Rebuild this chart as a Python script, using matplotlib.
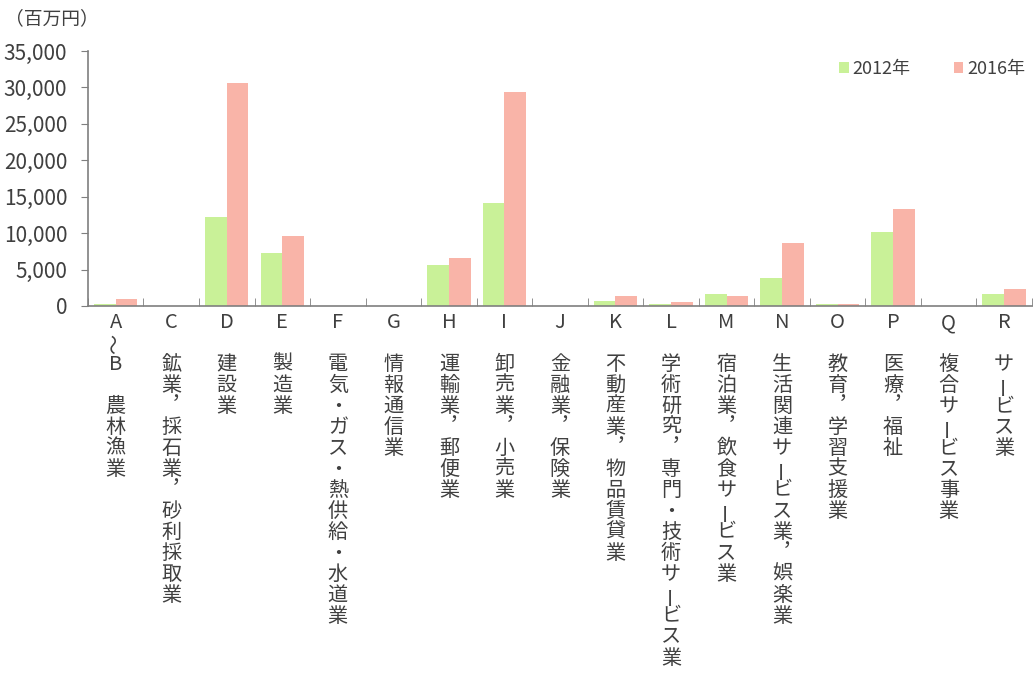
import numpy as np
import matplotlib.pyplot as plt

plt.rcParams['font.family'] = ['Noto Sans CJK JP', 'DejaVu Sans']

# 産業大分類
codes = ['A～B', 'C', 'D', 'E', 'F', 'G', 'H', 'I', 'J',
         'K', 'L', 'M', 'N', 'O', 'P', 'Q', 'R']
names = ['農林漁業', '鉱業，採石業，砂利採取業', '建設業', '製造業',
         '電気・ガス・熱供給・水道業', '情報通信業', '運輸業，郵便業',
         '卸売業，小売業', '金融業，保険業', '不動産業，物品賃貸業',
         '学術研究，専門・技術サービス業', '宿泊業，飲食サービス業',
         '生活関連サービス業，娯楽業', '教育，学習支援業', '医療，福祉',
         '複合サービス事業', 'サービス業']

# 百万円
v2012 = [300, 0, 12200, 7270, 0, 0, 5620, 14130, 60,
         730, 300, 1650, 3840, 300, 10150, 0, 1650]
v2016 = [960, 0, 30600, 9600, 0, 0, 6580, 29350, 0,
         1410, 550, 1410, 8640, 250, 13300, 0, 2290]

yticks = [0, 5000, 10000, 15000, 20000, 25000, 30000, 35000]

c12 = '#c9f198'
c16 = '#f9b4a8'
txt = '#404040'
grey = '#7f7f7f'

fig = plt.figure(figsize=(10.35, 6.75), dpi=100)
ax = fig.add_axes([0.085, 0.5467, 0.912, 0.3778])

x = np.arange(len(codes))
w = 0.39
ax.bar(x - w/2, v2012, w, color=c12, label='2012年')
ax.bar(x + w/2, v2016, w, color=c16, label='2016年')

ax.set_xlim(-0.5, len(codes) - 0.5)
ax.set_ylim(0, 35000)
ax.set_yticks(yticks)
ax.set_yticklabels([f'{v:,}' for v in yticks], fontsize=15, color=txt)
ax.tick_params(axis='y', direction='out', length=5, color=grey, pad=10)

ax.set_xticks([])
ax.set_xticks(np.arange(-0.5, len(codes)), minor=True)
ax.tick_params(axis='x', which='minor', direction='in', length=6, color=grey)

for s in ['top', 'right']:
    ax.spines[s].set_visible(False)
for s in ['left', 'bottom']:
    ax.spines[s].set_color(grey)
    ax.spines[s].set_linewidth(1.2)

# 縦書きラベル
vert = {'，': '︐'}
for i, (c, n) in enumerate(zip(codes, names)):
    chars = list(c) + [' '] + list(n)
    for k, ch in enumerate(chars):
        if ch == ' ':
            continue
        rot = 90 if ch in ('～', 'ー') else 0
        ax.annotate(vert.get(ch, ch), xy=(i, 0), xycoords=('data', 'axes fraction'),
                    xytext=(0, -(11.9 + k * 15.1)), textcoords='offset points',
                    ha='center', va='center', fontsize=14.5, color=txt,
                    rotation=rot, annotation_clip=False)

fig.text(0.005, 0.973, '（百万円）', fontsize=13.5, color=txt, ha='left', va='center')

leg = ax.legend(loc='upper right', bbox_to_anchor=(1.01, 1.03), ncol=2, frameon=False,
                fontsize=13, handlelength=0.55, handleheight=0.55, handletextpad=0.2,
                columnspacing=2.4, labelcolor=txt)

fig.savefig('out.png', dpi=100)
